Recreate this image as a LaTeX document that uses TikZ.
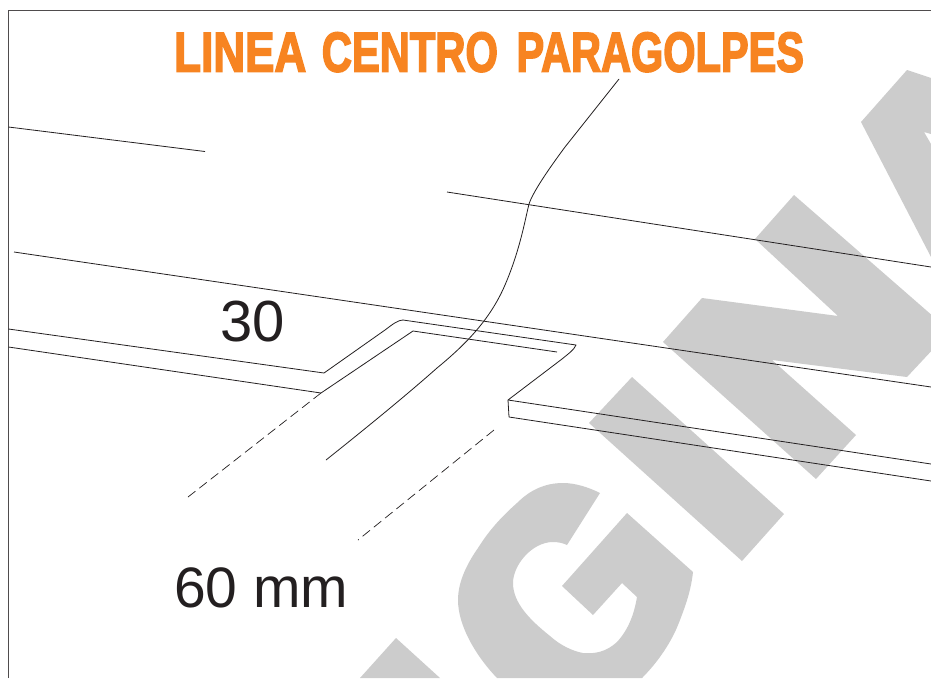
\documentclass[tikz,border=0pt]{standalone}
\usepackage{fontspec}
\usepackage{graphicx}
\setmainfont{Liberation Sans}
\newfontfamily\ttlfont[BoldFeatures={FakeBold=3.2}]{Liberation Sans}
\definecolor{ink}{HTML}{231F20}
\definecolor{mark}{HTML}{CCCCCC}
\definecolor{ttl}{HTML}{F78421}
\tikzset{
  wm/.style={fill=mark,draw=none},
  ln/.style={draw=ink,line width=0.8pt,line join=round},
  dsh/.style={draw=ink,line width=0.7pt,dash pattern=on 9.5pt off 5pt},
  lab/.style={anchor=base west,inner sep=0pt,text=ink,font=\fontsize{58}{58}\selectfont},
}
\begin{document}
\begin{tikzpicture}[x=1pt,y=-1pt]
\useasboundingbox (0,0) rectangle (931,678);
\fill[white] (0,0) rectangle (931,678);
\begin{scope}
\clip (0,0) rectangle (931,678);
% watermark G
\path[wm] (600,493) .. controls (588,487) and (575,483) .. (563,483)
  .. controls (545,483) and (530,490) .. (517,503)
  .. controls (500,518) and (488,532) .. (478,548)
  .. controls (464,568) and (458,585) .. (458,600)
  .. controls (458,625) and (475,655) .. (497,678)
  -- (642,678) .. controls (660,660) and (672,640) .. (678,625)
  .. controls (686,605) and (691,590) .. (693,572)
  -- (627,513) -- (562,586) -- (593,615) -- (622,583) -- (637,597)
  .. controls (634,615) and (628,630) .. (617,642)
  .. controls (606,652) and (595,654) .. (583,653)
  .. controls (572,651) and (560,645) .. (550,636)
  .. controls (530,620) and (513,603) .. (513,583)
  .. controls (513,565) and (532,542) .. (553,542)
  .. controls (558,542) and (563,543) .. (567,545) -- cycle;
% watermark first letter
\path[wm] (396,638) -- (440,678) -- (360,678) -- cycle;
% watermark I
\path[wm] (632,377) -- (784,514) -- (742,561) -- (589,423) -- cycle;
% watermark N
\path[wm] (794,195) -- (950,331) -- (907,377) -- (772,360) -- (856,435) -- (816,479)
  -- (663,342) -- (702,298) -- (838,316) -- (755,239) -- cycle;
% watermark A
\path[wm] (907,70) -- (931,78) -- (931,134) -- (924,132) -- (931,144) -- (931,257) -- (861,122) -- cycle;
\end{scope}
% frame
\draw[draw=ink!80,line width=1pt] (8.5,678) -- (8.5,10) -- (931,10);
% title
\node[anchor=base west,inner sep=0pt,text=ttl,font=\ttlfont\bfseries\fontsize{56}{56}\selectfont] (title) at (174,71.5)
  {\scalebox{0.786}[1]{LINEA} \scalebox{0.745}[1]{CENTRO}\hspace{3pt} \scalebox{0.741}[1]{PARAGOLPES}};
% labels
\node[lab] (thirty) at (220.5,341) {30};
\node[lab] (sixty) at (174,607) {\fontsize{57}{57}\selectfont 60 mm};
% lines
\draw[ln] (8.5,127) -- (205,151.5);
\draw[ln] (447,192) -- (931,267);
\draw[ln] (14,252) -- (931,387);
\draw[ln] (8.5,329) -- (324,373) -- (385,330) .. controls (393,324) and (398,320) .. (403,320)
  -- (576,345) .. controls (574,350) and (568,354) .. (562,359) -- (508,400) -- (931,464);
\draw[ln] (508,400) -- (509,417) -- (931,481);
\draw[ln] (8.5,347) -- (321,393) -- (413,331) -- (557,352);
\draw[dsh] (321,393) -- (188,497);
\draw[dsh] (494,430) -- (358,540);
\draw[ln] (619,79) -- (565,147) .. controls (548,170) and (533,192) .. (529,204)
  .. controls (525,220) and (520,250) .. (505,285)
  .. controls (490,320) and (465,345) .. (437,368)
  .. controls (410,392) and (370,425) .. (326,460);
\end{tikzpicture}
\end{document}
